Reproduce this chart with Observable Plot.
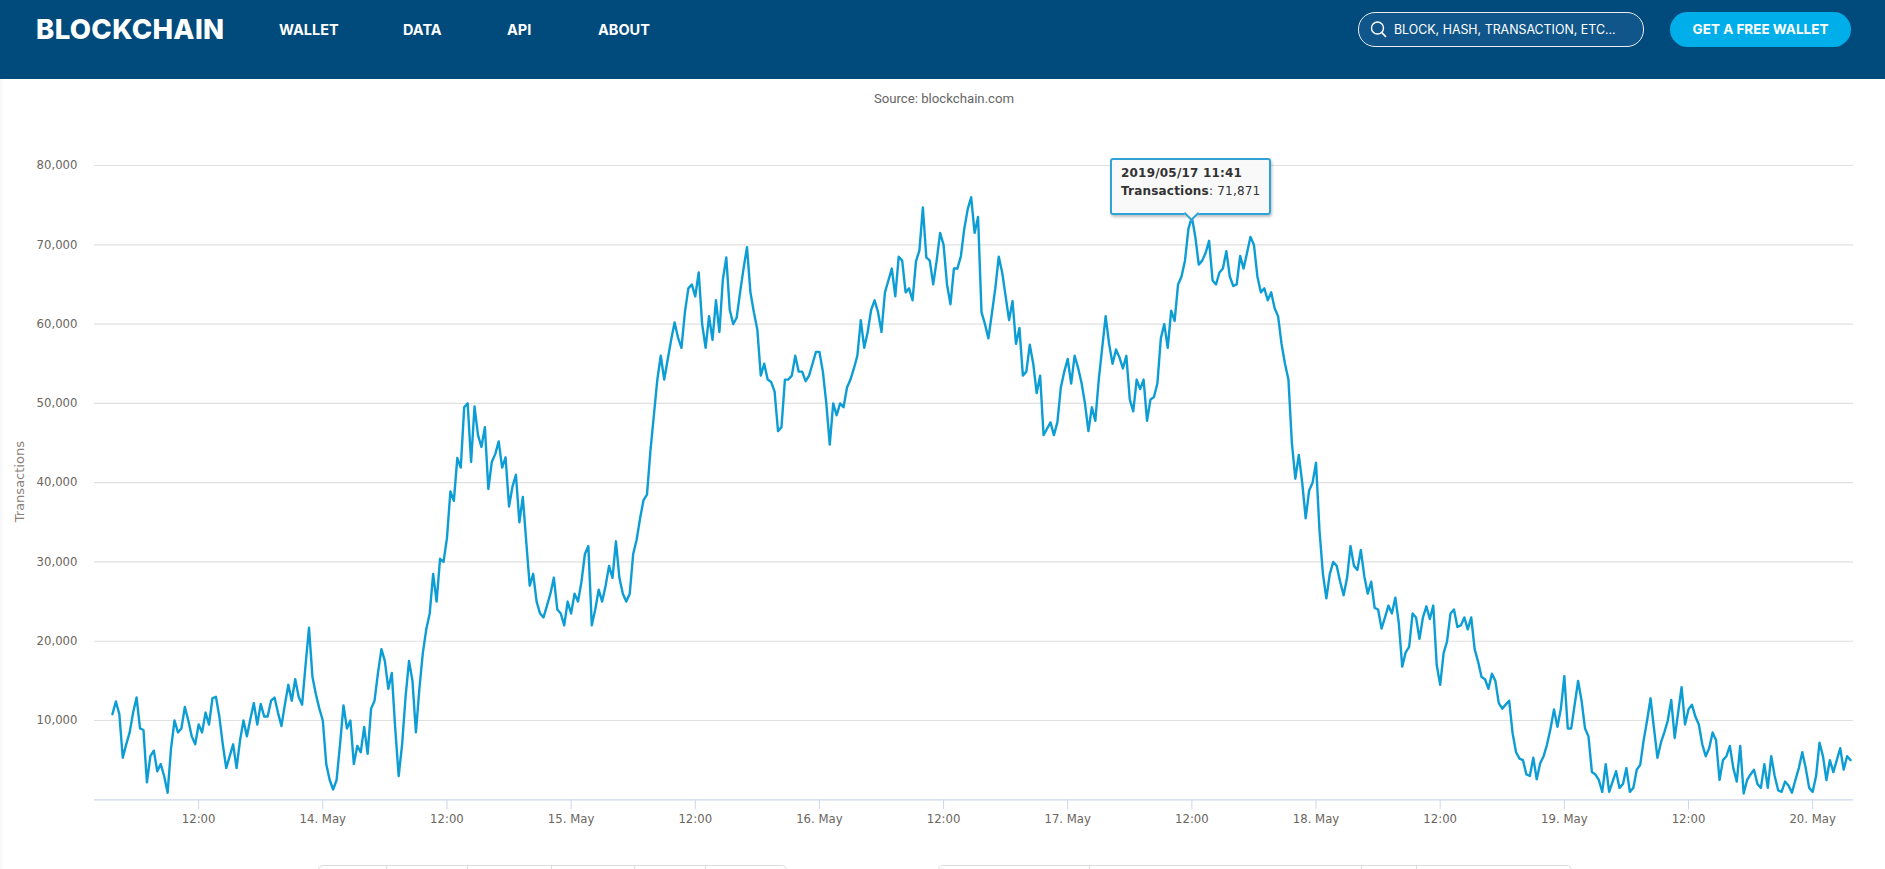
<!DOCTYPE html>
<html>
<head>
<meta charset="utf-8">
<title>Blockchain transactions</title>
<script src="https://cdn.jsdelivr.net/npm/d3@7"></script>
<script src="https://cdn.jsdelivr.net/npm/@observablehq/plot@0.6"></script>
<style>
html,body{margin:0;padding:0;background:#fff;width:1885px;height:869px;overflow:hidden;}
#chart{position:absolute;left:0;top:0;}
#edge{position:absolute;left:0;top:79px;width:4px;height:790px;background:linear-gradient(90deg,#f6f6f6,#fff);}
#top{position:absolute;left:0;top:0;width:1885px;height:79px;background:#004a7c;color:#fff;font-family:Inter,"Open Sans",sans-serif;}
#top span{position:absolute;white-space:nowrap;}
#logo{left:36px;top:13px;font-size:27.5px;line-height:32px;font-weight:800;letter-spacing:.35px;}
.nav{top:21px;font-size:14.5px;line-height:18px;font-weight:700;}
#search{position:absolute;left:1358px;top:12px;width:284px;height:33px;border:1px solid #e8eef3;border-radius:17px;background:#11568a;}
#search svg{position:absolute;left:11px;top:7px;}
#search b{position:absolute;left:35px;top:8px;font-size:12.4px;line-height:17px;font-weight:400;white-space:nowrap;}
#wallet{position:absolute;left:1670px;top:12px;width:181px;height:35px;border-radius:18px;background:#00aeea;font-size:13.5px;line-height:35px;font-weight:700;text-align:center;}
#source{position:absolute;left:0;width:1888px;top:90px;text-align:center;font:13.2px/18px Roboto,sans-serif;color:#666;}
#tip{position:absolute;left:1110px;top:158px;width:157px;height:53px;background:rgba(249,249,249,.92);border:2px solid #2fa3d6;border-radius:3px;box-shadow:1px 2px 3px rgba(0,0,0,.25);font:12px/17.5px "DejaVu Sans",sans-serif;color:#333;letter-spacing:.2px;}
#tip div{position:absolute;left:9px;white-space:nowrap;}
#tip i{position:absolute;left:74px;top:48px;width:9px;height:9px;background:#f9f9f9;border-right:2px solid #2fa3d6;border-bottom:2px solid #2fa3d6;transform:rotate(45deg);}
.range{position:absolute;top:865px;height:20px;border:1px solid #ddd;border-radius:5px;background:#fff;box-sizing:border-box;}
.range u{position:absolute;top:0;bottom:0;width:1px;background:#ddd;}
</style>
</head>
<body>
<div id="edge"></div>
<div id="chart"></div>
<div id="source">Source: blockchain.com</div>
<div id="top">
  <span id="logo">BLOCKCHAIN</span>
  <span class="nav" style="left:279px">WALLET</span>
  <span class="nav" style="left:403px">DATA</span>
  <span class="nav" style="left:507px">API</span>
  <span class="nav" style="left:598px">ABOUT</span>
  <div id="search">
    <svg width="18" height="20" viewBox="0 0 18 20"><circle cx="7.5" cy="8" r="6" fill="none" stroke="#fff" stroke-width="1.4"/><path d="M11.8 12.5L16 17" stroke="#fff" stroke-width="1.8"/></svg>
    <b>BLOCK, HASH, TRANSACTION, ETC...</b>
  </div>
  <div id="wallet">GET A FREE WALLET</div>
</div>
<div id="tip"><div style="top:5px"><b>2019/05/17 11:41</b></div><div style="top:23px"><b>Transactions</b>: 71,871</div><i></i></div>
<div class="range" style="left:318px;width:469px"><u style="left:67px"></u><u style="left:148px"></u><u style="left:232px"></u><u style="left:315px"></u><u style="left:386px"></u></div>
<div class="range" style="left:938px;width:634px"><u style="left:150px"></u><u style="left:422px"></u><u style="left:477px"></u></div>

<script>
// Transactions in thousands, one reading every 20 minutes, grouped by day.
const may13 = [ // begins 03:40
  10.8,12.4,10.8,5.3,7,8.5,11,12.9,9,8.8,
  2.2,5.5,6.2,3.6,4.5,3,0.9,6.5,10,8.5,
  9,11.7,10,8,7,9.5,8.5,11,9.5,12.8,
  13,10.5,7,4,5.5,7,4,7.5,10,8,
  10.2,12.2,9.5,12.1,10.5,10.5,12.5,12.9,11,9.3,
  12,14.5,12.5,15.2,13,12,17,21.7,15.5,13.3,11.5];
const may14 = [
  10,4.5,2.5,1.3,2.5,7,11.9,9,10,4.5,6.8,6,
  9.2,5.8,11.5,12.5,16,19,17.5,14,16,9,3,7,
  13,17.5,15,8.5,14,18.5,21.5,23.5,28.5,25,30.4,30,
  33,38.9,37.7,43.1,41.9,49.5,50,42.6,49.6,46,44.5,47,
  39.2,42.6,43.6,45.2,41.9,43.2,37,39.5,41,35,38.2,32.5,
  27,28.5,25,23.5,23,24.5,26,28,24,23.5,22,25];
const may15 = [
  23.5,26,25,27.5,31,32,22,24,26.5,25,27,29.5,
  28,32.6,28,26,25,26,31,32.8,35.5,37.8,38.5,44,
  48.5,53,56,53,55.5,58,60.2,58.3,57,61.5,64.5,65,
  63.5,66.5,60,57,61,58,63,59,65.6,68.4,61.8,60,
  60.8,64,67,69.7,64,61.5,59.3,53.5,55,53,52.7,51.5,
  46.5,47,53,53,53.5,56,54,54,52.8,53.5,55,56.5];
const may16 = [
  56.5,54,50,44.8,50,48.5,50,49.5,52,53,54.4,56,
  60.5,57,59,61.8,63,61.5,59,64,65.5,67,63.5,68.5,
  68,64,64.5,63,67.9,69.3,74.7,68.4,68,65,68,71.5,
  70,65,62.5,67,67,68.5,72,74.5,76,71.5,73.5,61.5,
  60,58.2,61.3,64.5,68.5,66.5,63.5,60.5,62.9,57.5,59.5,53.5,
  54,57.4,55,51.3,53.5,46,46.8,47.6,46,47.6,52,54];
const may17 = [
  55.6,52.5,56,54.5,52.6,50,46.5,49.5,47.8,53,57,61,
  57.5,55,56.8,55.8,54.4,56,50.5,49,53,51.8,53,47.8,
  50.5,50.8,52.5,58.2,60,57,61.7,60.4,65,66,68,72,
  73.5,71,67.5,68,69,70.5,65.5,65,66.5,67,69.2,66,
  64.8,65,68.6,67,69,71,70,66,64,64.5,63,64,
  62,61,57.5,55,53,45,40.5,43.5,40,35.5,39,40];
const may18 = [
  42.5,34,28.5,25.4,28.5,30,29.5,27.5,25.8,28,32,29.5,
  29,31.5,28.2,26,27.5,24.2,24,21.6,23,24.5,23.5,25.5,
  22.3,16.8,18.6,19.3,23.5,23,20.3,23,24.4,22.8,24.5,17,
  14.5,18.5,20,23.5,24,21.8,22,23,21.5,23,19,17.4,
  15.5,15.2,14,15.9,15,12.2,11.5,12,12.5,8.4,6,5.2,
  5,3.2,3,5.3,2.6,4.6,5.5,7,9,11.4,9.2,11.5];
const may19 = [
  15.6,9,9,12,15,12.5,9,8,3.5,3.2,2.5,1,
  4.5,1,2.3,3.6,1.5,2,4,1,1.5,3.8,4.4,7.5,
  10,12.8,9,5.3,7.2,8.5,10,12.6,7.8,11,14.2,9.5,
  11.4,12,10.5,9.5,7,5.5,6.5,8.5,7.5,2.5,5,5.5,
  6.8,4,2.3,6.8,0.8,2.5,3.2,3.8,2,1.5,4.5,1.5,
  5.5,3,1.2,1,2.3,1.8,0.9,2.5,4,6,4,1.5];
const may20 = [1,3,7.2,5.5,2.5,5,3.5,5,6.5,3.8,5.5,5];

const days = [
  {day:13, first:11, values:may13},
  {day:14, first:0, values:may14},
  {day:15, first:0, values:may15},
  {day:16, first:0, values:may16},
  {day:17, first:0, values:may17},
  {day:18, first:0, values:may18},
  {day:19, first:0, values:may19},
  {day:20, first:0, values:may20}
];
const rows = days.flatMap(({day, first, values}) =>
  values.map((v, i) => ({
    time: new Date(Date.UTC(2019, 4, day, 0, (first + i) * 20)),
    count: v * 1000
  })));

const yTicks = [10000,20000,30000,40000,50000,60000,70000,80000];
const xTicks = [];
for (let d = 13; d <= 20; d++) {
  if (d > 13) xTicks.push(new Date(Date.UTC(2019, 4, d, 0)));
  if (d < 20) xTicks.push(new Date(Date.UTC(2019, 4, d, 12)));
}
const fmtY = d3.format(",");
const fmtX = t => t.getUTCHours() === 12 ? "12:00" : `${t.getUTCDate()}. May`;

const plot = Plot.plot({
  width: 1885,
  height: 869,
  marginLeft: 94,
  marginRight: 32,
  marginTop: 165,
  marginBottom: 69.7,
  style: {fontFamily: '"DejaVu Sans",sans-serif', fontSize: "11.7px", background: "transparent", overflow: "visible"},
  x: {type: "utc", domain: [new Date(Date.UTC(2019,4,13,1,56)), new Date(Date.UTC(2019,4,20,3,57))]},
  y: {domain: [0, 80000]},
  marks: [
    Plot.ruleY(yTicks, {stroke: "#e0e0e0", strokeWidth: 1.2}),
    Plot.ruleY([0], {stroke: "#ccd6eb", strokeWidth: 1.3}),
    Plot.axisY({ticks: yTicks, tickFormat: fmtY, tickSize: 0, tickPadding: 17, color: "#6b6660", label: null}),
    Plot.text(["Transactions"], {frameAnchor: "left", textAnchor: "middle", rotate: -90, dx: -75, dy: -1, fontSize: 13, fill: "#8a8078"}),
    Plot.axisX({ticks: xTicks, tickFormat: fmtX, tickSize: 10, tickPadding: 5, stroke: "#ccd6eb", color: "#6b6660", label: null}),
    Plot.line(rows, {x: "time", y: "count", stroke: "#0d9dd5", strokeWidth: 2.4, strokeLinejoin: "round", curve: "linear"})
  ]
});
document.getElementById("chart").appendChild(plot);
</script>
</body>
</html>
